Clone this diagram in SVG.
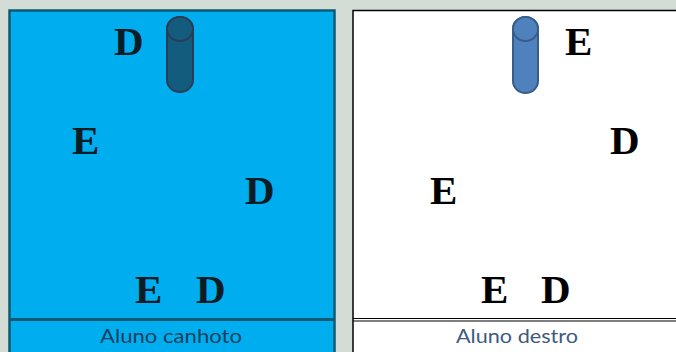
<svg xmlns="http://www.w3.org/2000/svg" width="676" height="352" viewBox="0 0 676 352">
<style>
.ltr{font-family:"Liberation Serif","Times New Roman",serif;font-weight:bold;font-size:41px}
.l{fill:#0a1c24}
.r{fill:#000}
.lab{font-family:Lato,"Open Sans",sans-serif;font-size:20px;text-anchor:middle}
</style>
<rect x="0" y="0" width="676" height="352" fill="#d3ddd5"/>
<g id="panel-canhoto">
<rect x="9.5" y="10.5" width="325" height="350" fill="#00aeef" stroke="#0f5a73" stroke-width="2.5"/>
<line x1="9.5" y1="319.5" x2="334.5" y2="319.5" stroke="#0f5a73" stroke-width="3"/>
<text class="lab" x="171" y="343" fill="#17405e" textLength="142" lengthAdjust="spacingAndGlyphs">Aluno canhoto</text>
</g>
<g id="cyl-left">
<path d="M167,29 A13,12 0 0 1 193,29 L193,80 A13,12 0 0 1 167,80 Z" fill="#145c7e" stroke="#2a3d58" stroke-width="2"/>
<ellipse cx="180" cy="29" rx="13" ry="12" fill="#145c7e" stroke="#2a3d58" stroke-width="2"/>
</g>
<g id="letters-left" class="ltr l">
<text x="114" y="55">D</text>
<text x="72" y="154">E</text>
<text x="245" y="204">D</text>
<text x="135" y="303">E</text>
<text x="196" y="303">D</text>
</g>
<g id="panel-destro">
<rect x="353" y="10.5" width="330" height="350" fill="#fff" stroke="#000" stroke-width="1.5"/>
<line x1="353" y1="318.5" x2="676" y2="318.5" stroke="#000" stroke-width="1"/>
<line x1="353" y1="321" x2="676" y2="321" stroke="#000" stroke-width="1"/>
<text class="lab" x="517" y="343" fill="#3e5a7e" textLength="122" lengthAdjust="spacingAndGlyphs">Aluno destro</text>
</g>
<g id="cyl-right">
<path d="M513,29 A12.5,12 0 0 1 538,29 L538,81 A12.5,12 0 0 1 513,81 Z" fill="#4f81bd" stroke="#385d8a" stroke-width="2"/>
<ellipse cx="525.5" cy="29" rx="12.5" ry="12" fill="#4f81bd" stroke="#385d8a" stroke-width="2"/>
</g>
<g id="letters-right" class="ltr r">
<text x="565" y="55">E</text>
<text x="610" y="154">D</text>
<text x="430" y="204">E</text>
<text x="481" y="303">E</text>
<text x="541" y="303">D</text>
</g>
<g id="connectors"></g>
</svg>
